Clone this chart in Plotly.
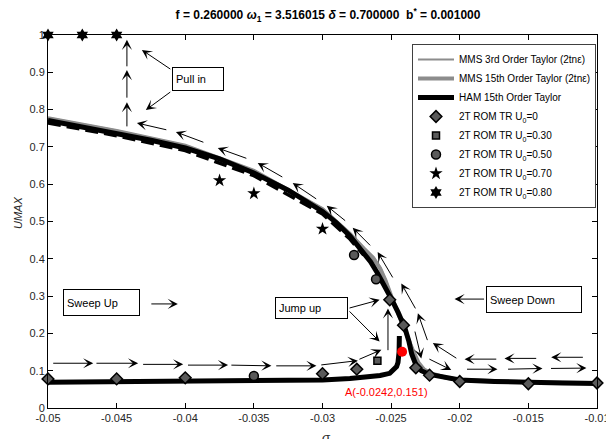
import plotly.graph_objects as go

# ---------------- data ----------------
# HAM 15th order Taylor: upper branch and lower branch
ham_upper_sigma = [-0.05, -0.0475, -0.045, -0.0425, -0.04, -0.0375, -0.035, -0.0325, -0.03, -0.029, -0.028,
                   -0.027, -0.0265, -0.026, -0.0255, -0.025, -0.0245, -0.024, -0.0237, -0.0235, -0.0232,
                   -0.0228, -0.0222, -0.021, -0.02, -0.0175, -0.015, -0.0125, -0.01]
ham_upper_umax = [0.771, 0.754, 0.737, 0.718, 0.697, 0.668, 0.630, 0.584, 0.527, 0.497, 0.461,
                  0.418, 0.392, 0.362, 0.330, 0.294, 0.257, 0.215, 0.178, 0.145, 0.116,
                  0.100, 0.090, 0.080, 0.075, 0.071, 0.068, 0.067, 0.066]
ham_lower_sigma = [-0.05, -0.045, -0.04, -0.035, -0.03, -0.028, -0.0266, -0.0258, -0.0251, -0.0248,
                   -0.0246, -0.0245, -0.02442, -0.0244]
ham_lower_umax = [0.069, 0.070, 0.071, 0.072, 0.075, 0.079, 0.083, 0.087, 0.093, 0.102,
                  0.111, 0.122, 0.150, 0.193]
# dark dashed band visible just under the HAM upper branch
ham_band_sigma = [-0.05, -0.045, -0.04, -0.035, -0.03, -0.028, -0.027]
ham_band_umax = [0.764, 0.730, 0.690, 0.623, 0.520, 0.453, 0.410]

# MMS curves (2tn_eps)
mms3_sigma = [-0.05, -0.045, -0.04, -0.035, -0.03, -0.028, -0.027, -0.0263, -0.0258, -0.0254, -0.025,
              -0.0246, -0.0242, -0.0238, -0.0234, -0.023, -0.0226, -0.022, -0.021, -0.02, -0.015, -0.01]
mms3_umax = [0.778, 0.744, 0.704, 0.637, 0.535, 0.469, 0.430, 0.405, 0.378, 0.345, 0.305,
             0.265, 0.228, 0.193, 0.155, 0.122, 0.104, 0.093, 0.081, 0.076, 0.069, 0.067]
mms15_sigma = [-0.05, -0.045, -0.04, -0.035, -0.03, -0.028, -0.027, -0.0263, -0.0258, -0.0254, -0.025,
               -0.0246, -0.0242, -0.0238, -0.0234, -0.023, -0.0226, -0.022, -0.021, -0.02, -0.015, -0.01]
mms15_umax = [0.777, 0.743, 0.703, 0.636, 0.533, 0.467, 0.428, 0.402, 0.374, 0.341, 0.301,
              0.262, 0.225, 0.190, 0.153, 0.121, 0.103, 0.092, 0.081, 0.076, 0.069, 0.067]

# 2T ROM TR points
rom_u0_00_sigma = [-0.05, -0.045, -0.04, -0.03, -0.0275, -0.0251, -0.0241, -0.0232, -0.0222, -0.02, -0.015, -0.01]
rom_u0_00_umax = [0.078, 0.078, 0.081, 0.092, 0.104, 0.290, 0.222, 0.108, 0.088, 0.071, 0.065, 0.067]
rom_u0_30_sigma = [-0.026]
rom_u0_30_umax = [0.127]
rom_u0_50_sigma = [-0.035, -0.0277, -0.0261]
rom_u0_50_umax = [0.086, 0.410, 0.345]
rom_u0_70_sigma = [-0.0375, -0.035, -0.030]
rom_u0_70_umax = [0.610, 0.575, 0.480]
rom_u0_80_sigma = [-0.05, -0.0475, -0.045]
rom_u0_80_umax = [1.0, 1.0, 1.0]

point_a_sigma = [-0.0242]
point_a_umax = [0.151]

# path arrows: tail -> head (sigma, umax)
arrow_tail_sigma = [-0.04973, -0.04658, -0.04318, -0.03991, -0.03675, -0.03348, -0.03020, -0.02742,
                    -0.02523, -0.02329, -0.02232, -0.01958, -0.01659, -0.01346,
                    -0.01092, -0.01432, -0.01723, -0.02014, -0.02232, -0.02317,
                    -0.02482, -0.02642, -0.02824, -0.03035, -0.03282, -0.03544, -0.03857, -0.04127,
                    -0.04425, -0.04425, -0.04425,
                    -0.04098, -0.04098, -0.02814, -0.02814, -0.04258, -0.01812]
arrow_tail_umax = [0.120, 0.120, 0.117, 0.115, 0.115, 0.113, 0.115, 0.129,
                   0.151, 0.209, 0.133, 0.104, 0.104, 0.106,
                   0.136, 0.133, 0.131, 0.131, 0.178, 0.263,
                   0.346, 0.432, 0.499, 0.558, 0.617, 0.668, 0.711, 0.745,
                   0.751, 0.828, 0.912,
                   0.906, 0.850, 0.267, 0.263, 0.279, 0.292]
arrow_head_sigma = [-0.04670, -0.04343, -0.04015, -0.03688, -0.03372, -0.03044, -0.02742, -0.02571,
                    -0.02523, -0.02280, -0.02062, -0.01725, -0.01397, -0.01077,
                    -0.01334, -0.01674, -0.01965, -0.02196, -0.02305, -0.02426,
                    -0.02598, -0.02780, -0.02969, -0.03217, -0.03472, -0.03763, -0.04068, -0.04352,
                    -0.04425, -0.04425, -0.04425,
                    -0.04316, -0.04287, -0.02584, -0.02584, -0.04054, -0.02038]
arrow_head_umax = [0.120, 0.120, 0.117, 0.115, 0.113, 0.113, 0.127, 0.156,
                   0.267, 0.133, 0.102, 0.104, 0.106, 0.107,
                   0.136, 0.133, 0.131, 0.174, 0.254, 0.334,
                   0.418, 0.483, 0.542, 0.603, 0.657, 0.697, 0.740, 0.764,
                   0.820, 0.906, 0.987,
                   0.960, 0.799, 0.290, 0.178, 0.279, 0.292]

x_ticks = [-0.05, -0.045, -0.04, -0.035, -0.03, -0.025, -0.02, -0.015, -0.01]
x_tick_text = ["-0.05", "-0.045", "-0.04", "-0.035", "-0.03", "-0.025", "-0.02", "-0.015", "-0.01"]
y_ticks = [0, 0.1, 0.2, 0.3, 0.4, 0.5, 0.6, 0.7, 0.8, 0.9, 1]
y_tick_text = ["0", "0.1", "0.2", "0.3", "0.4", "0.5", "0.6", "0.7", "0.8", "0.9", "1"]

# ---------------- figure ----------------
FONT = "Liberation Sans, Arial, Helvetica, sans-serif"
W, H = 606, 439
L, R, T, B = 48, 9, 35, 31
PW, PH = W - L - R, H - T - B


def px_x(px):
    return (px - L) / PW


def px_y(py):
    return (H - B - py) / PH


fig = go.Figure()

fig.add_trace(go.Scatter(x=mms3_sigma, y=mms3_umax, mode="lines",
                         line=dict(color="#8c8c8c", width=2),
                         name="MMS 3rd Order Taylor (2tnε)"))
fig.add_trace(go.Scatter(x=mms15_sigma, y=mms15_umax, mode="lines",
                         line=dict(color="#8c8c8c", width=4),
                         name="MMS 15th Order Taylor (2tnε)"))
fig.add_trace(go.Scatter(x=ham_upper_sigma + [None] + ham_lower_sigma,
                         y=ham_upper_umax + [None] + ham_lower_umax, mode="lines",
                         line=dict(color="black", width=5),
                         name="HAM 15th Order Taylor"))
fig.add_trace(go.Scatter(x=ham_band_sigma, y=ham_band_umax, mode="lines",
                         line=dict(color="black", width=3.5, dash="13px,6px"),
                         showlegend=False, hoverinfo="skip"))

mk_line = dict(color="black", width=1.5)
fig.add_trace(go.Scatter(x=rom_u0_00_sigma, y=rom_u0_00_umax, mode="markers", cliponaxis=False,
                         marker=dict(symbol="diamond", size=9, color="#5a5a5a", line=mk_line),
                         name="2T ROM TR U<sub>0</sub>=0"))
fig.add_trace(go.Scatter(x=rom_u0_30_sigma, y=rom_u0_30_umax, mode="markers", cliponaxis=False,
                         marker=dict(symbol="square", size=7, color="#5a5a5a", line=mk_line),
                         name="2T ROM TR U<sub>0</sub>=0.30"))
fig.add_trace(go.Scatter(x=rom_u0_50_sigma, y=rom_u0_50_umax, mode="markers", cliponaxis=False,
                         marker=dict(symbol="circle", size=9, color="#5a5a5a", line=mk_line),
                         name="2T ROM TR U<sub>0</sub>=0.50"))
fig.add_trace(go.Scatter(x=rom_u0_70_sigma, y=rom_u0_70_umax, mode="markers", cliponaxis=False,
                         marker=dict(symbol="star", size=10, color="black", line=dict(width=0)),
                         name="2T ROM TR U<sub>0</sub>=0.70"))
fig.add_trace(go.Scatter(x=rom_u0_80_sigma, y=rom_u0_80_umax, mode="markers", cliponaxis=False,
                         marker=dict(symbol="hexagram", size=10, color="black", line=dict(width=0)),
                         name="2T ROM TR U<sub>0</sub>=0.80"))
fig.add_trace(go.Scatter(x=point_a_sigma, y=point_a_umax, mode="markers", cliponaxis=False,
                         marker=dict(symbol="circle", size=10, color="#ff0000"),
                         showlegend=False))

annotations = []
for ts, tu, hs, hu in zip(arrow_tail_sigma, arrow_tail_umax, arrow_head_sigma, arrow_head_umax):
    annotations.append(dict(x=hs, y=hu, ax=ts, ay=tu, xref="x", yref="y", axref="x", ayref="y",
                            text="", showarrow=True, arrowhead=3, arrowsize=1.7, arrowwidth=1,
                            arrowcolor="black"))

box_font = dict(family=FONT, size=11, color="black")


def text_box(txt, left, top, w, h):
    return dict(text=txt, xref="paper", yref="paper", x=px_x(left), y=px_y(top),
                xanchor="left", yanchor="top", showarrow=False, align="left",
                width=w - 8, height=h - 8, borderpad=3, bordercolor="black", borderwidth=1,
                bgcolor="white", font=box_font)


annotations.append(text_box("Sweep Up", 63, 289, 77, 27))
annotations.append(text_box("Sweep Down", 486, 286, 96, 27))
annotations.append(text_box("Pull in", 172, 67, 52, 24))
annotations.append(text_box("Jump up", 275, 297, 73, 22))

annotations.append(dict(text="A(-0.0242,0.151)", xref="paper", yref="paper", x=px_x(386), y=px_y(392),
                        xanchor="center", yanchor="middle", showarrow=False,
                        font=dict(family=FONT, size=11, color="#ff0000")))
annotations.append(dict(text="<i>UMAX</i>", xref="paper", yref="paper", x=px_x(18), y=px_y(213),
                        xanchor="center", yanchor="middle", textangle=-90, showarrow=False,
                        font=dict(family=FONT, size=11, color="#262626")))
annotations.append(dict(text="<i>σ</i>", xref="paper", yref="paper", x=px_x(326), y=px_y(428),
                        xanchor="center", yanchor="top", showarrow=False,
                        font=dict(family=FONT, size=13, color="#262626")))

axis_common = dict(showline=True, linecolor="black", linewidth=1, mirror="ticks", ticks="inside",
                   ticklen=5, tickcolor="black", showgrid=False, zeroline=False,
                   ticklabeloverflow="allow", automargin=False,
                   tickfont=dict(family=FONT, size=11, color="#262626"))

fig.update_layout(
    width=W, height=H,
    margin=dict(l=L, r=R, t=T, b=B, autoexpand=False),
    plot_bgcolor="white", paper_bgcolor="white",
    title=dict(text="<b>f = 0.260000 <i>ω</i><sub>1</sub> = 3.516015 <i>δ</i> = 0.700000  b<sup>*</sup> = 0.001000</b>",
               x=328 / W, xref="container", xanchor="center", y=1 - 15 / H, yref="container",
               yanchor="middle", font=dict(family=FONT, size=12, color="black")),
    xaxis=dict(range=[-0.0500001, -0.0099999], tickvals=x_ticks, ticktext=x_tick_text, **axis_common),
    yaxis=dict(range=[0, 1.0000001], tickvals=y_ticks, ticktext=y_tick_text, **axis_common),
    legend=dict(x=px_x(412), y=px_y(44), xanchor="left", yanchor="top", bgcolor="white",
                bordercolor="#404040", borderwidth=1, font=dict(family=FONT, size=10, color="black"),
                tracegroupgap=0, itemwidth=36),
    annotations=annotations,
    showlegend=True,
)

fig.write_html("out.html")
